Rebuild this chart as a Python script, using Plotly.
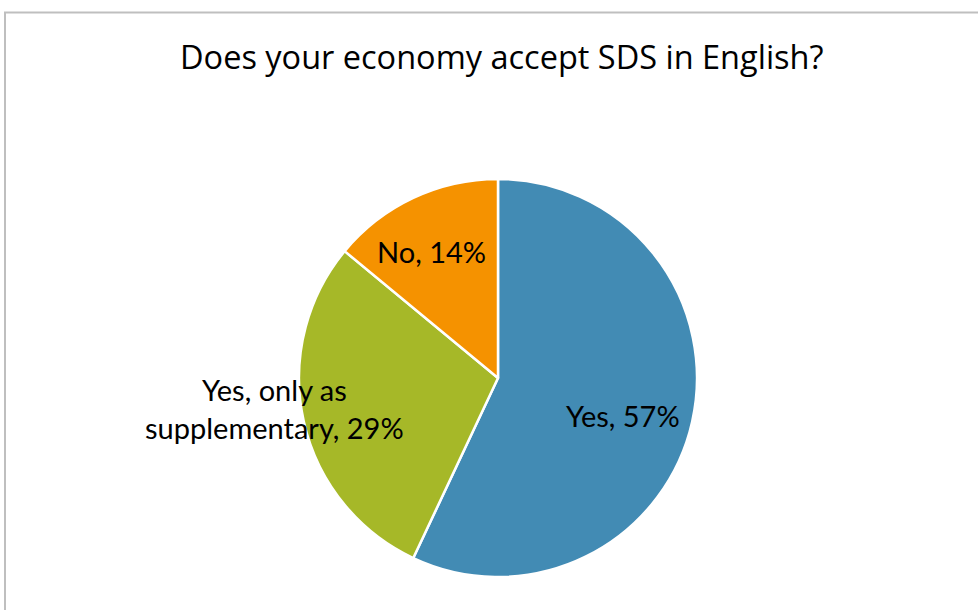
import plotly.graph_objects as go

# Survey answers and their shares (percent)
categories = ["Yes", "Yes, only as supplementary", "No"]
shares = [57, 29, 14]
slice_colors = ["#428BB4", "#A6B828", "#F59200"]

title_text = "Does your economy accept SDS in English?"
LABEL_FONT = "Lato, 'Open Sans', sans-serif"
TITLE_FONT = "'Open Sans', Lato, sans-serif"

W, H = 978, 610
cx, cy, r = 498, 378, 199  # pie centre / radius in pixels

fig = go.Figure(
    go.Pie(
        labels=categories,
        values=shares,
        sort=False,
        direction="clockwise",
        rotation=0,
        marker=dict(colors=slice_colors, line=dict(color="white", width=2.5)),
        textinfo="none",
        hoverinfo="label+percent",
        showlegend=False,
        domain=dict(
            x=[(cx - r) / W, (cx + r) / W],
            y=[(H - cy - r) / H, (H - cy + r) / H],
        ),
    )
)

# Data labels "<category>, <share>%"
label_pos = {
    "Yes": (623, 415),
    "Yes, only as supplementary": (274, 408),
    "No": (431, 252),
}
wrapped = {"Yes, only as supplementary": "Yes, only as<br>supplementary"}
annotations = []
for cat, val in zip(categories, shares):
    x, y = label_pos[cat]
    annotations.append(
        dict(
            text=f"{wrapped.get(cat, cat)}, {val}%",
            x=x / W,
            y=1 - y / H,
            xref="paper",
            yref="paper",
            showarrow=False,
            xanchor="center",
            yanchor="middle",
            align="center",
            font=dict(family=LABEL_FONT, size=29, color="#000000"),
        )
    )

annotations.append(
    dict(
        text=title_text,
        x=502 / W,
        y=1 - 57 / H,
        xref="paper",
        yref="paper",
        showarrow=False,
        xanchor="center",
        yanchor="middle",
        font=dict(family=TITLE_FONT, size=32.5, color="#000000"),
    )
)

# Chart-area frame (runs off the right and bottom edges)
shapes = [
    dict(
        type="rect",
        xref="paper",
        yref="paper",
        x0=5 / W,
        x1=1.05,
        y0=-0.05,
        y1=1 - 12.5 / H,
        line=dict(color="#BFBFBF", width=2),
        fillcolor="rgba(0,0,0,0)",
    )
]

fig.update_layout(
    width=W,
    height=H,
    margin=dict(l=0, r=0, t=0, b=0),
    paper_bgcolor="white",
    plot_bgcolor="white",
    annotations=annotations,
    shapes=shapes,
)

fig.write_html("out.html")
